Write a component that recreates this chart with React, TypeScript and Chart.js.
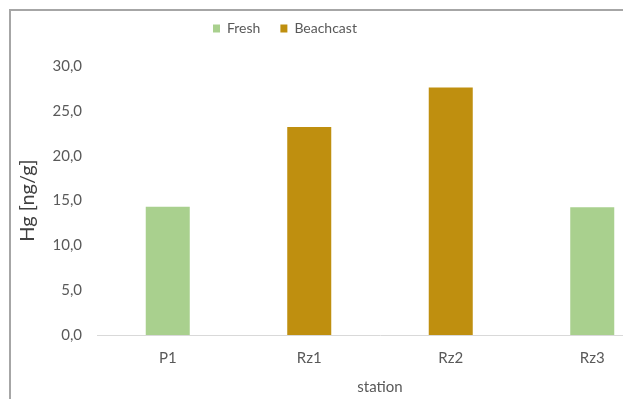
import React, { useEffect, useRef } from "react";
import { Chart, registerables } from "chart.js";

Chart.register(...registerables);

const stations = ["P1", "Rz1", "Rz2", "Rz3"];
const freshValues = [14.3, null, null, 14.25];
const beachcastValues = [null, 23.2, 27.6, null];
const yTicks = [0, 5, 10, 15, 20, 25, 30];

const legendPlace = {
  id: "legendPlace",
  afterInit(chart: any) {
    const lg = chart.legend;
    if (!lg) return;
    const origFit = lg.fit.bind(lg);
    lg.fit = function () {
      origFit();
      this.height = 55;
    };
  },
  beforeDraw(chart: any) {
    const lg = chart.legend;
    if (!lg) return;
    lg.left = 182;
    lg.right = 680;
    lg.top = -9.5;
  },
};

export default function App() {
  const ref = useRef<HTMLCanvasElement>(null);
  useEffect(() => {
    document.documentElement.style.overflow = "hidden";
    document.body.style.overflow = "hidden";
    const ctx = ref.current!;
    Chart.defaults.font.family = "Lato";
    const chart = new Chart(ctx, {
      type: "bar",
      data: {
        labels: stations,
        datasets: [
          { label: "Fresh", data: freshValues as any, backgroundColor: "#a9d08e" },
          { label: "Beachcast", data: beachcastValues as any, backgroundColor: "#bf8f0f" },
        ],
      },
      plugins: [legendPlace],
      options: {
        animation: false,
        responsive: false,
        skipNull: true,
        categoryPercentage: 1,
        barPercentage: 0.311,
        layout: { padding: { left: 0, right: 28, top: 0, bottom: 0 } },
        plugins: {
          tooltip: { enabled: false },
          legend: {
            position: "top",
            align: "start",
            labels: {
              boxWidth: 7,
              boxHeight: 8,
              padding: 20,
              color: "#595959",
              font: { size: 14, family: "Lato" },
            },
          },
        },
        scales: {
          x: {
            grid: { display: false, drawTicks: false },
            border: { display: true, color: "#d9d9d9", width: 1 },
            ticks: { color: "#595959", font: { size: 15, family: "Lato" }, padding: 14 },
            title: {
              display: true,
              text: "station",
              color: "#595959",
              font: { size: 15, family: "Lato" },
              padding: { top: 0, bottom: 3 },
            },
            afterFit(scale: any) {
              scale.height = 64;
            },
          },
          y: {
            min: 0,
            max: 30,
            afterBuildTicks(scale: any) {
              scale.ticks = yTicks.map((v) => ({ value: v }));
            },
            grid: { display: false, drawTicks: false },
            border: { display: false },
            ticks: {
              color: "#595959",
              font: { size: 15, family: "Lato" },
              padding: 15,
              callback: (v: any) => Number(v).toFixed(1).replace(".", ","),
            },
            title: {
              display: true,
              text: "Hg [ng/g]",
              color: "#404040",
              font: { size: 20, family: "Lato" },
              padding: { top: 5, bottom: 0 },
            },
            afterFit(scale: any) {
              scale.width = 86;
            },
          },
        },
      } as any,
    });
    return () => chart.destroy();
  }, []);
  return (
    <div
      style={{
        position: "absolute",
        left: 9,
        top: 9,
        width: 612,
        height: 388,
        overflow: "hidden",
        borderLeft: "2px solid #a6a6a6",
        borderTop: "2px solid #a6a6a6",
        background: "#fff",
      }}
    >
      <canvas ref={ref} width={680} height={388} style={{ display: "block" }} />
    </div>
  );
}
